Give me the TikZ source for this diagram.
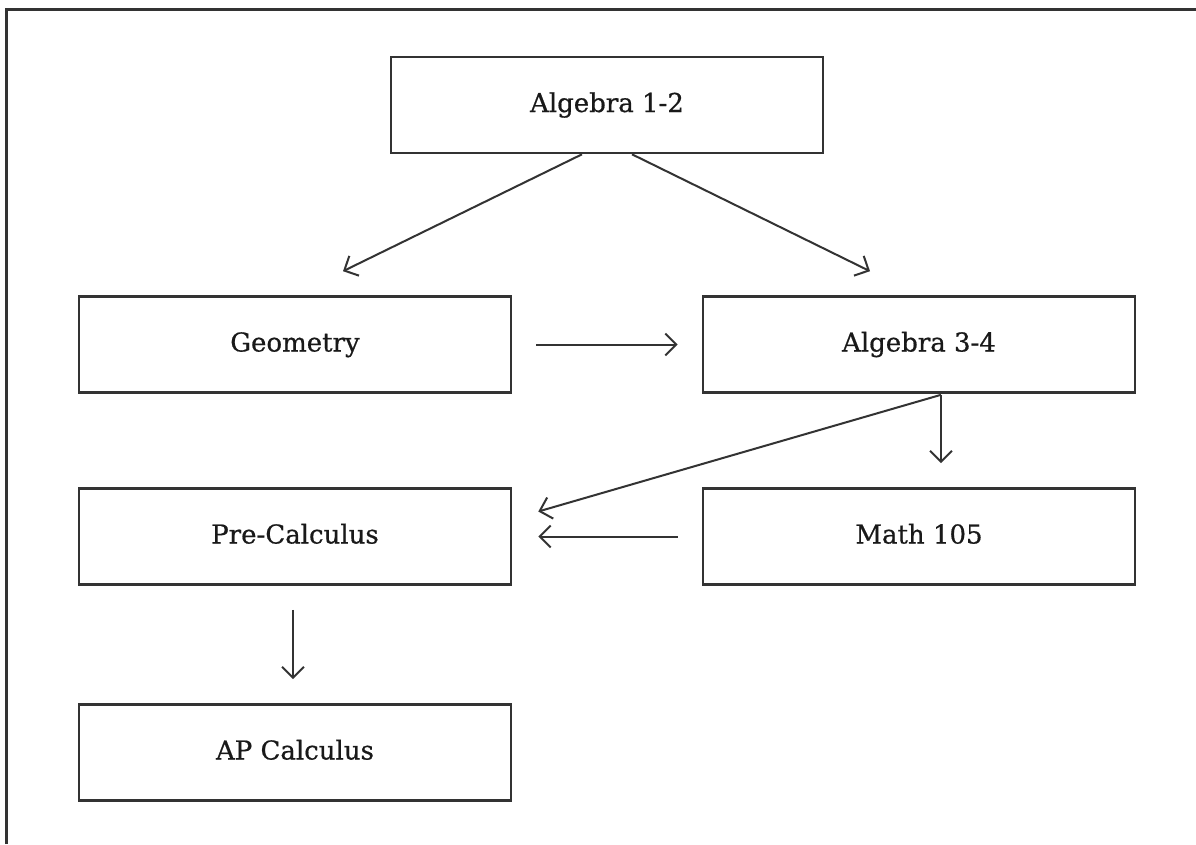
\documentclass[tikz,border=0pt]{standalone}
\usepackage{fontspec}
\setmainfont{DejaVu Serif}
\newfontfamily\nodefont{DejaVu Serif}[FakeBold=0.6]
\usetikzlibrary{arrows.meta}
\definecolor{ink}{HTML}{333333}
\tikzset{
  course/.style={draw=ink, line width=2.6pt, minimum width=432pt, minimum height=96pt,
    inner sep=0pt, font=\nodefont\fontsize{26}{30}\selectfont, text=black!90,
    text height=19pt, text depth=5pt},
  link/.style={draw=ink, line width=2pt,
    -{Straight Barb[length=11pt,width=22pt,line width=2pt]}}
}
\begin{document}
\begin{tikzpicture}[x=1pt,y=-1pt]
\useasboundingbox (0,0) rectangle (1196,844);
\fill[white] (0,0) rectangle (1196,844);
\draw[ink, line width=3pt] (6.5,844) -- (6.5,9) -- (1196,9);
\node[course] (a12) at (607,105) {Algebra 1-2};
\node[course] (geo) at (295,344.5) {Geometry};
\node[course] (a34) at (919,344.5) {Algebra 3-4};
\node[course] (pre) at (295,536.5) {Pre-Calculus};
\node[course] (m105) at (919,536.5) {Math 105};
\node[course] (ap) at (295,752.5) {AP Calculus};
\draw[link] ([xshift=-25pt]a12.south) -- ([xshift=48pt,yshift=24pt]geo.north);
\draw[link] ([xshift=25pt]a12.south) -- ([xshift=-49pt,yshift=24pt]a34.north);
\draw[link] ([xshift=24pt]geo.east) -- ([xshift=-24pt]a34.west);
\draw[link] ([xshift=22pt,yshift=-1pt]a34.south) -- ([xshift=22pt,yshift=24pt]m105.north);
\draw[link] ([xshift=22pt,yshift=-1pt]a34.south) -- ([xshift=26pt,yshift=25pt]pre.east);
\draw[link] ([xshift=-24pt]m105.west) -- ([xshift=26pt]pre.east);
\draw[link] ([xshift=-2pt,yshift=-24pt]pre.south) -- ([xshift=-2pt,yshift=24pt]ap.north);
\end{tikzpicture}
\end{document}
